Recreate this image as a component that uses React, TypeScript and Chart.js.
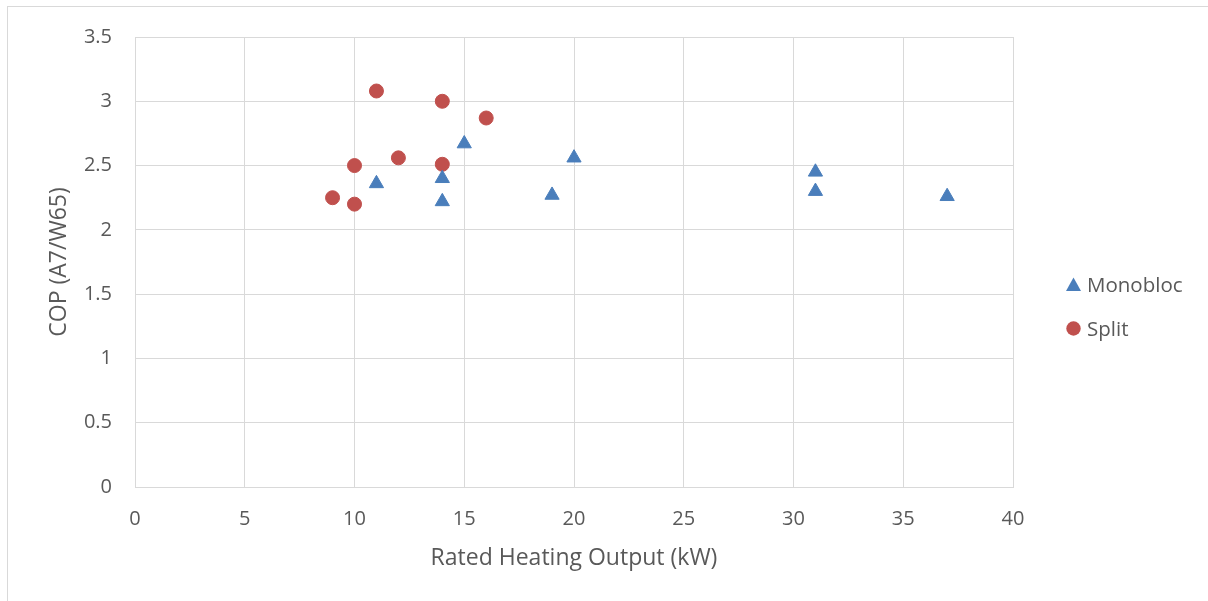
import React, { useEffect, useRef } from "react";
import { Chart, registerables } from "chart.js";

Chart.register(...registerables);

const seriesNames = ["Monobloc", "Split"];
const monoblocX = [11, 14, 14, 15, 19, 20, 31, 31, 37];
const monoblocY = [2.36, 2.4, 2.22, 2.67, 2.27, 2.56, 2.45, 2.3, 2.26];
const splitX = [9, 10, 10, 11, 12, 14, 14, 16];
const splitY = [2.25, 2.5, 2.2, 3.08, 2.56, 3.0, 2.51, 2.87];
const xTitle = "Rated Heating Output (kW)";
const yTitle = "COP (A7/W65)";
const xMin = 0;
const xMax = 40;
const xStep = 5;
const yMin = 0;
const yMax = 3.5;
const yStep = 0.5;

const BLUE = "#4a7ebb";
const RED = "#c0504d";
const TEXT = "#595959";
const GRID = "#d9d9d9";
const FONT = "'Open Sans', sans-serif";

export default function App() {
  const ref = useRef<HTMLCanvasElement | null>(null);

  useEffect(() => {
    if (!ref.current) return;
    const chart = new Chart(ref.current, {
      type: "scatter",
      data: {
        datasets: [
          {
            label: seriesNames[0],
            data: monoblocX.map((x, i) => ({ x, y: monoblocY[i] })),
            pointStyle: "triangle",
            pointRadius: 8.2,
            pointHoverRadius: 8.2,
            backgroundColor: BLUE,
            borderColor: BLUE,
            borderWidth: 1,
          },
          {
            label: seriesNames[1],
            data: splitX.map((x, i) => ({ x, y: splitY[i] })),
            pointStyle: "circle",
            pointRadius: 7,
            pointHoverRadius: 7,
            backgroundColor: RED,
            borderColor: RED,
            borderWidth: 1,
          },
        ],
      },
      options: {
        responsive: false,
        animation: false,
        layout: { padding: { left: 0, top: 37, right: 195, bottom: 0 } },
        plugins: { legend: { display: false }, tooltip: { enabled: false } },
        scales: {
          x: {
            type: "linear",
            min: xMin,
            max: xMax,
            ticks: {
              stepSize: xStep,
              color: TEXT,
              font: { family: FONT, size: 20 },
              padding: 20,
              callback: (v: any) => String(v),
            },
            grid: { color: GRID, lineWidth: 1, drawTicks: false },
            border: { color: GRID, width: 1 },
            title: {
              display: true,
              text: xTitle,
              color: TEXT,
              font: { family: FONT, size: 23 },
              padding: { top: 0, bottom: 29 },
            },
            afterFit: (s: any) => {
              s.height = 114;
            },
          },
          y: {
            type: "linear",
            min: yMin,
            max: yMax,
            ticks: {
              stepSize: yStep,
              color: TEXT,
              font: { family: FONT, size: 20 },
              padding: 23,
              callback: (v: any) => String(v),
            },
            grid: { color: GRID, lineWidth: 1, drawTicks: false },
            border: { color: GRID, width: 1 },
            title: {
              display: true,
              text: yTitle,
              color: TEXT,
              font: { family: FONT, size: 23 },
              padding: { top: 46, bottom: 0 },
            },
            afterFit: (s: any) => {
              s.width = 135;
            },
          },
        },
      },
    });
    return () => chart.destroy();
  }, []);

  return (
    <div
      style={{
        position: "absolute",
        left: 0,
        top: 0,
        width: 1208,
        height: 601,
        overflow: "hidden",
        background: "#fff",
      }}
    >
      <div
        style={{
          position: "absolute",
          left: 7,
          top: 6,
          width: 1400,
          height: 800,
          border: "1px solid #d9d9d9",
        }}
      />
      <canvas ref={ref} width={1208} height={601} style={{ position: "absolute", left: 0, top: 0 }} />
      <div
        style={{
          position: "absolute",
          left: 1066,
          top: 270,
          fontFamily: FONT,
          fontSize: 20.5,
          color: TEXT,
          lineHeight: "28px",
        }}
      >
        <div style={{ display: "flex", alignItems: "center", height: 28 }}>
          <svg width={16} height={15} style={{ marginRight: 5 }}>
            <polygon points="7.5,0.5 15,14 0,14" fill={BLUE} />
          </svg>
          <span>{seriesNames[0]}</span>
        </div>
        <div style={{ display: "flex", alignItems: "center", height: 28, marginTop: 16 }}>
          <svg width={16} height={15} style={{ marginRight: 5 }}>
            <circle cx={7.5} cy={7.5} r={7.2} fill={RED} />
          </svg>
          <span>{seriesNames[1]}</span>
        </div>
      </div>
    </div>
  );
}
